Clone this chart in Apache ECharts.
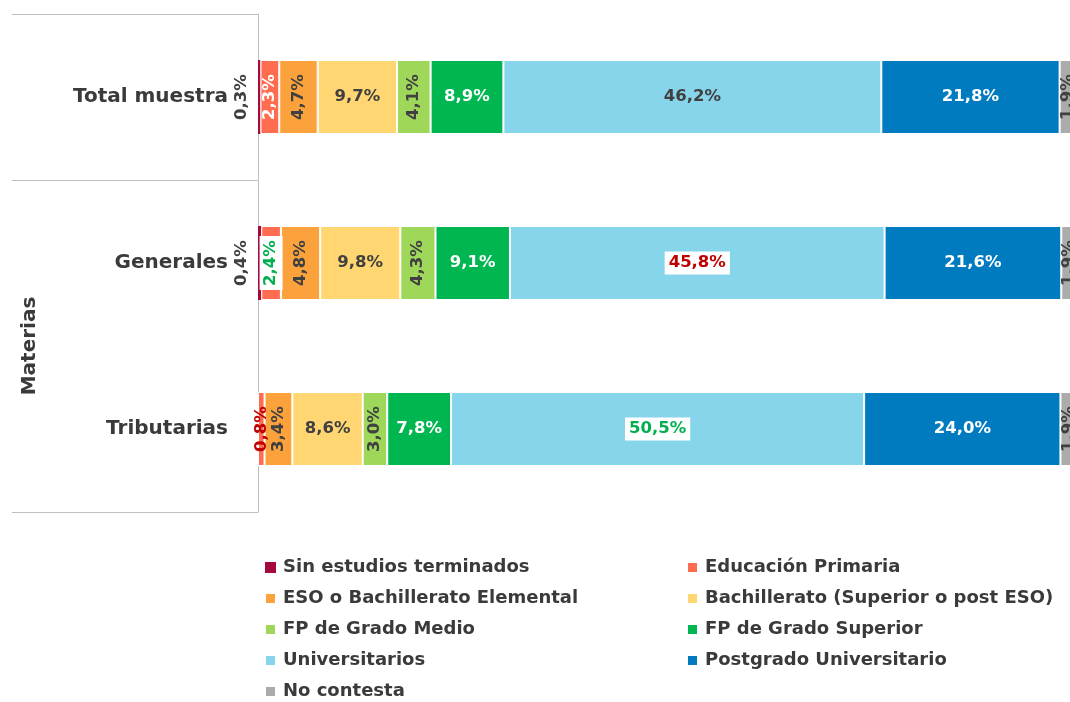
<!DOCTYPE html>
<html>
<head>
<meta charset="utf-8">
<script src="https://cdn.jsdelivr.net/npm/echarts@6/dist/echarts.min.js"></script>
<style>
  html, body { margin: 0; padding: 0; background: #fff; overflow: hidden; }
  #chart { width: 1080px; height: 702px; }
</style>
</head>
<body>
<div id="chart"></div>
<script>
const categories = ["Total muestra", "Generales", "Tributarias"];
const groupLabel = "Materias";

const seriesNames = [
  "Sin estudios terminados",
  "Educación Primaria",
  "ESO o Bachillerato Elemental",
  "Bachillerato (Superior o post ESO)",
  "FP de Grado Medio",
  "FP de Grado Superior",
  "Universitarios",
  "Postgrado Universitario",
  "No contesta",
];

// % por categoría (Total, Generales, Tributarias)
const sinEstudios = [0.3, 0.4, 0.0];
const primaria = [2.3, 2.4, 0.8];
const eso = [4.7, 4.8, 3.4];
const bachillerato = [9.7, 9.8, 8.6];
const fpMedio = [4.1, 4.3, 3.0];
const fpSuperior = [8.9, 9.1, 7.8];
const universitarios = [46.2, 45.8, 50.5];
const postgrado = [21.8, 21.6, 24.0];
const noContesta = [1.9, 1.9, 1.9];

const seriesValues = [
  sinEstudios, primaria, eso, bachillerato, fpMedio,
  fpSuperior, universitarios, postgrado, noContesta,
];

// diferencias significativas: 1 = mayor (verde), -1 = menor (rojo)
const signifPrimaria = [0, 1, -1];
const signifUniversitarios = [0, -1, 1];

const colors = [
  "#a50a3c", "#ff6c4f", "#fba23c", "#ffd672", "#9fd75a",
  "#00b650", "#86d5ea", "#007bc0", "#ababab",
];
const labelColors = [
  "#404040", "#ffffff", "#404040", "#404040", "#404040",
  "#ffffff", "#404040", "#ffffff", "#404040",
];

// el 100% queda un poco fuera del lienzo, como en el original
const GRID = { left: 258, top: 14, width: 818, height: 498 };
const fmt = (v) => v.toFixed(1).replace(".", ",") + "%";

const chart = echarts.init(document.getElementById("chart"));

const signifFor = (si) =>
  si === 1 ? signifPrimaria : si === 6 ? signifUniversitarios : null;

const series = seriesNames.map((name, si) => {
  const sig = signifFor(si);
  return {
    name,
    type: "bar",
    stack: "total",
    barWidth: 74,
    itemStyle: {
      color: colors[si],
      borderColor: "#ffffff",
      borderWidth: si === 0 ? 0 : 1,
    },
    data: seriesValues[si].map((v, ci) => {
      const label = {
        show: v > 0,
        position: "inside",
        formatter: () => fmt(v),
        color: labelColors[si],
        fontFamily: "DejaVu Sans",
        fontWeight: "bold",
        fontSize: 16.5,
        rotate: v < 5 ? 90 : 0,
      };
      // offset va en ejes del texto girado: [0, -18] => 18px a la izquierda
      if (si === 0) label.offset = [0, -18];
      const s = sig ? sig[ci] : 0;
      if (s !== 0) {
        label.color = s > 0 ? "#00b050" : "#c00000";
        if (v >= 2) {
          label.backgroundColor = "#ffffff";
          label.padding = [3, 4];
        }
      }
      return { value: v, label };
    }),
  };
});

const bandH = GRID.height / categories.length;
const lineStyle = { stroke: "#bfbfbf", lineWidth: 1 };
const hLine = (y) => ({
  type: "line",
  shape: { x1: 12, y1: y + 0.5, x2: GRID.left, y2: y + 0.5 },
  style: lineStyle,
  silent: true,
});

const option = {
  animation: false,
  grid: GRID,
  xAxis: {
    type: "value",
    min: 0,
    max: 100,
    show: false,
  },
  yAxis: {
    type: "category",
    inverse: true,
    data: categories,
    axisLine: { show: true, lineStyle: { color: "#bfbfbf", width: 1 } },
    axisTick: { show: false },
    axisLabel: {
      margin: 30,
      color: "#3a3a3a",
      fontFamily: "DejaVu Sans",
      fontWeight: "bold",
      fontSize: 20,
    },
  },
  legend: {
    left: 264,
    top: 552,
    width: 850,
    padding: 0,
    itemGap: 0,
    itemWidth: 11,
    itemHeight: 11,
    icon: "rect",
    selectedMode: false,
    data: seriesNames,
    textStyle: {
      color: "#3a3a3a",
      fontFamily: "DejaVu Sans",
      fontWeight: "bold",
      fontSize: 18,
      lineHeight: 31,
      width: 403,
      padding: [0, 0, 0, 2],
    },
  },
  graphic: [
    hLine(GRID.top),
    hLine(GRID.top + bandH),
    hLine(GRID.top + GRID.height),
    {
      type: "text",
      x: 30,
      y: GRID.top + bandH * 2,
      rotation: Math.PI / 2,
      style: {
        text: groupLabel,
        fill: "#3a3a3a",
        font: "bold 20px 'DejaVu Sans'",
        align: "center",
        verticalAlign: "middle",
      },
    },
  ],
  series,
};

chart.setOption(option);
</script>
</body>
</html>
